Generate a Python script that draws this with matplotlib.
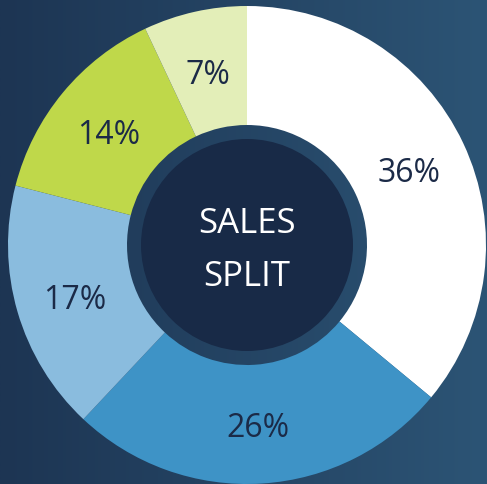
import numpy as np
import matplotlib
matplotlib.use("Agg")
import matplotlib.pyplot as plt
from matplotlib.colors import LinearSegmentedColormap
from matplotlib.patches import Circle

# slice values, going clockwise from 12 o'clock
shares = [36, 26, 17, 14, 7]
labels = ["36%", "26%", "17%", "14%", "7%"]
colors = ["#ffffff", "#3e93c6", "#8abcde", "#bfd84a", "#e3eeb8"]
centre_lines = ["SALES", "SPLIT"]

W, H = 487, 484
fig = plt.figure(figsize=(W / 100, H / 100), dpi=100)
ax = fig.add_axes([0, 0, 1, 1])
ax.set_xlim(0, W)
ax.set_ylim(0, H)
ax.set_aspect("equal")
ax.axis("off")

# background: dark blue, a bit lighter to the right
bg = LinearSegmentedColormap.from_list("bg", ["#1d3553", "#2c5475"])
grad = np.linspace(0, 1, 256).reshape(1, -1)
ax.imshow(grad, cmap=bg, extent=[0, W, 0, H], aspect="auto", zorder=0)

cx, cy = 247, 239
R = 239
hole = 120

wedges, texts, autotexts = ax.pie(
    shares, colors=colors, startangle=90, counterclock=False,
    center=(cx, cy), radius=R, autopct="%d%%", pctdistance=0.75,
    wedgeprops=dict(width=R - hole, linewidth=0),
    textprops=dict(color="#1b2a47", fontsize=23, family="Open Sans"),
    frame=True,
)
for t, lab in zip(autotexts, labels):
    t.set_text(lab)
    x, y = t.get_position()
    t.set_position((x, y - 5))  # nudge down a little
ax.set_xlim(0, W)
ax.set_ylim(0, H)
ax.axis("off")

# inner disc
ax.add_patch(Circle((cx, cy), 106, facecolor="#182a47", edgecolor="none", zorder=5))
ax.text(cx, cy + 21, centre_lines[0], color="white", fontsize=25, family="Open Sans",
        ha="center", va="center", zorder=6)
ax.text(cx, cy - 32, centre_lines[1], color="white", fontsize=25, family="Open Sans",
        ha="center", va="center", zorder=6)

fig.savefig("out.png", dpi=100)
